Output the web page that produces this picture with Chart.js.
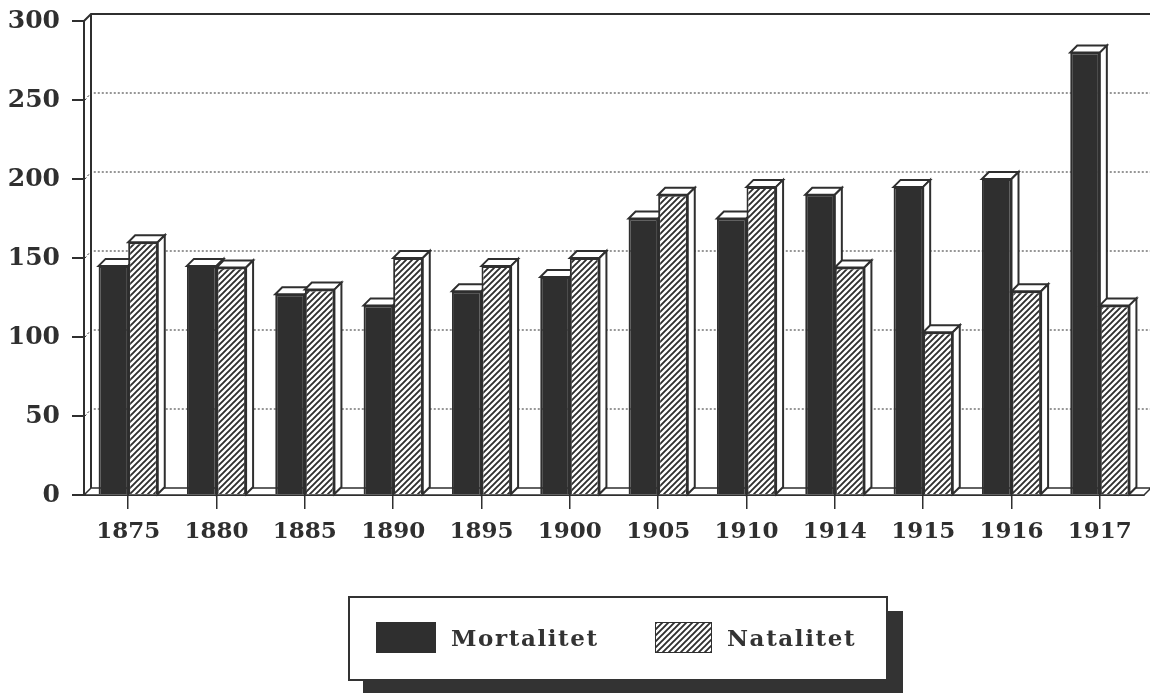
<!DOCTYPE html>
<html lang="no">
<head>
<meta charset="utf-8">
<title>Mortalitet og natalitet</title>
<script src="https://cdn.jsdelivr.net/npm/chart.js@4/dist/chart.umd.min.js"></script>
<style>
  html, body { margin: 0; padding: 0; background: #fff; }
  #wrap { position: relative; width: 1150px; height: 693px; overflow: hidden; }
  #legend {
    position: absolute; left: 348px; top: 596px; width: 536px; height: 81px;
    background: #fff; border: 2px solid #333; box-shadow: 15px 15px 0 #333;
    font-family: "DejaVu Serif", serif; font-weight: bold;
    font-size: 23px; letter-spacing: 1.6px; color: #333;
  }
  .item { display: flex; align-items: center; }
  .swatch { width: 60px; height: 31px; margin-right: 15px; box-sizing: border-box; }
</style>
</head>
<body>
<div id="wrap">
  <canvas id="chart" width="1150" height="693"></canvas>
  <div id="legend"></div>
</div>
<script>
// ==========================================
// DATA
// ==========================================

const years = ["1875", "1880", "1885", "1890", "1895", "1900", "1905", "1910", "1914", "1915", "1916", "1917"];
const mortalitet = [145, 145, 127, 120, 129, 138, 175, 175, 190, 195, 200, 280];
const natalitet = [160, 144, 130, 150, 145, 150, 190, 195, 144, 103, 129, 120];
const yTicks = [0, 50, 100, 150, 200, 250, 300];

const INK = "#2f2f2f";
const DEPTH = 7; // 3D-dybde i piksler

// ==========================================
// SKRAVERING (////)
// ==========================================

function makeHatch() {
  const c = document.createElement("canvas");
  c.width = 6;
  c.height = 6;
  const g = c.getContext("2d");
  g.fillStyle = "#fff";
  g.fillRect(0, 0, 6, 6);
  g.strokeStyle = INK;
  g.lineWidth = 1.9;
  g.beginPath();
  g.moveTo(-1, 7); g.lineTo(7, -1);
  g.moveTo(-1, 1); g.lineTo(1, -1);
  g.moveTo(5, 7); g.lineTo(7, 5);
  g.stroke();
  return c;
}

const hatchCanvas = makeHatch();
const ctx = document.getElementById("chart").getContext("2d");
const hatch = ctx.createPattern(hatchCanvas, "repeat");

// ==========================================
// BAKVEGG, GOLV OG 3D-SØYLER
// ==========================================

function poly(c, pts) {
  c.beginPath();
  c.moveTo(pts[0][0], pts[0][1]);
  for (let i = 1; i < pts.length; i++) c.lineTo(pts[i][0], pts[i][1]);
  c.closePath();
  c.fill();
  c.stroke();
}

const threeD = {
  id: "threeD",
  beforeDatasetsDraw(chart) {
    const c = chart.ctx;
    const a = chart.chartArea;
    const yScale = chart.scales.y;
    const W = chart.width;
    c.save();
    c.strokeStyle = INK;
    c.fillStyle = "#fff";

    // stiplede linjer på bakveggen
    c.lineWidth = 1;
    c.setLineDash([2, 2]);
    yTicks.slice(1, -1).forEach((v) => {
      const py = yScale.getPixelForValue(v);
      c.beginPath();
      c.moveTo(a.left + 1, py);
      c.lineTo(a.left + DEPTH, py - DEPTH);
      c.lineTo(W, py - DEPTH);
      c.stroke();
    });
    c.setLineDash([]);

    // bakvegg: venstre kant og topp
    c.lineWidth = 2;
    c.beginPath();
    c.moveTo(a.left, a.top);
    c.lineTo(a.left + DEPTH, a.top - DEPTH);
    c.lineTo(W, a.top - DEPTH);
    c.moveTo(a.left + DEPTH, a.top - DEPTH);
    c.lineTo(a.left + DEPTH, a.bottom - DEPTH);
    c.stroke();

    // golv
    c.lineWidth = 1.5;
    poly(c, [
      [a.left, a.bottom],
      [a.left + DEPTH, a.bottom - DEPTH],
      [a.right + DEPTH, a.bottom - DEPTH],
      [a.right, a.bottom],
    ]);

    // topp og side på hver søyle
    c.lineWidth = 2;
    chart.data.datasets.forEach((ds, i) => {
      chart.getDatasetMeta(i).data.forEach((bar) => {
        const p = bar.getProps(["x", "y", "base", "width"], true);
        const x0 = p.x - p.width / 2;
        const x1 = p.x + p.width / 2;
        poly(c, [[x0, p.y], [x1, p.y], [x1 + DEPTH, p.y - DEPTH], [x0 + DEPTH, p.y - DEPTH]]);
        poly(c, [[x1, p.y], [x1 + DEPTH, p.y - DEPTH], [x1 + DEPTH, p.base - DEPTH], [x1, p.base]]);
      });
    });
    c.restore();
  },
};

// ==========================================
// DIAGRAM
// ==========================================

Chart.defaults.font.family = "'DejaVu Serif', serif";
Chart.defaults.color = INK;

const chart = new Chart(ctx, {
  type: "bar",
  data: {
    labels: years,
    datasets: [
      {
        label: "Mortalitet",
        data: mortalitet,
        backgroundColor: INK,
        borderColor: INK,
        borderWidth: 2,
        categoryPercentage: 0.67,
        barPercentage: 1.0,
      },
      {
        label: "Natalitet",
        data: natalitet,
        backgroundColor: hatch,
        borderColor: INK,
        borderWidth: 2,
        categoryPercentage: 0.67,
        barPercentage: 1.0,
      },
    ],
  },
  options: {
    responsive: false,
    animation: false,
    layout: { padding: { top: 21, right: 6, left: 0, bottom: 0 } },
    plugins: {
      legend: { display: false },
      tooltip: { enabled: false },
    },
    scales: {
      x: {
        afterFit: (s) => {
          s.height = 693 - 495;
          s.paddingLeft = 0;
          s.paddingRight = 0;
        },
        grid: {
          drawOnChartArea: false,
          offset: false,
          tickLength: 14,
          color: INK,
          lineWidth: 1.5,
        },
        border: { display: true, color: INK, width: 2 },
        ticks: { padding: 9, font: { size: 23, weight: "bold" }, color: INK },
      },
      y: {
        min: 0,
        max: 300,
        afterFit: (s) => {
          s.width = 84;
          s.paddingTop = 0;
          s.paddingBottom = 0;
        },
        afterBuildTicks: (s) => { s.ticks = yTicks.map((v) => ({ value: v })); },
        grid: {
          drawOnChartArea: false,
          tickLength: 12,
          color: INK,
          lineWidth: 2,
        },
        border: { display: true, color: INK, width: 2 },
        ticks: { padding: 12, font: { size: 25, weight: "bold" }, color: INK },
      },
    },
  },
  plugins: [threeD],
});

// ==========================================
// TEGNFORKLARING
// ==========================================

function buildLegend() {
  const box = document.getElementById("legend");
  const spots = [26, 305];
  chart.data.datasets.forEach((ds, i) => {
    const item = document.createElement("div");
    item.className = "item";
    item.style.position = "absolute";
    item.style.left = spots[i] + "px";
    item.style.top = "24px";
    const sw = document.createElement("div");
    sw.className = "swatch";
    if (i === 0) {
      sw.style.background = INK;
    } else {
      sw.style.backgroundImage = "url(" + hatchCanvas.toDataURL() + ")";
      sw.style.border = "1.5px solid " + INK;
      sw.style.width = "57px";
    }
    const txt = document.createElement("span");
    txt.textContent = ds.label;
    item.appendChild(sw);
    item.appendChild(txt);
    box.appendChild(item);
  });
}

buildLegend();
</script>
</body>
</html>
